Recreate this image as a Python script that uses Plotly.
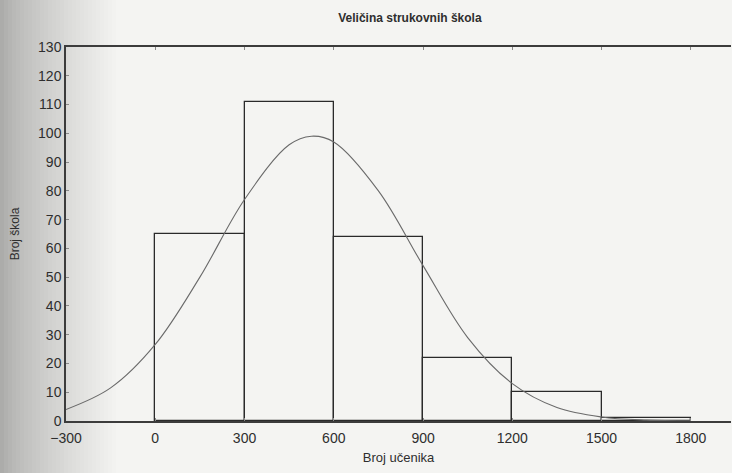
import plotly.graph_objects as go

# Histogram data
bin_starts = [0, 300, 600, 900, 1200, 1500]
bin_width = 300
counts = [65, 111, 64, 22, 10, 1]

# Fitted normal curve
curve_x = [-300, -150, 0, 150, 300, 450, 525, 600, 750, 900, 1050, 1200, 1350, 1500, 1650, 1800]
curve_y = [4, 11.5, 26.6, 50, 77, 96, 99, 97, 80, 54, 29, 13, 4.7, 1.4, 0.3, 0.05]

x_ticks = [-300, 0, 300, 600, 900, 1200, 1500, 1800]

fig = go.Figure()
fig.add_trace(go.Bar(
    x=bin_starts, y=counts, width=[bin_width] * len(bin_starts), offset=0,
    marker=dict(color="rgba(0,0,0,0)", line=dict(color="#2a2a2a", width=1.3)),
    showlegend=False, hoverinfo="skip"))
fig.add_trace(go.Scatter(
    x=curve_x, y=curve_y, mode="lines", line=dict(color="#6a6a6a", width=1.1, shape="spline"),
    showlegend=False, hoverinfo="skip"))

# scanned-page shadow on the left edge (decoration)
L, W = 66, 665
shapes = []
n = 30
for i in range(n):
    p0 = i * 4
    p1 = p0 + 4
    t = i / (n - 1)
    g = int(172 + (244 - 172) * (t ** 0.75))
    shapes.append(dict(type="rect", xref="paper", yref="paper", layer="below",
                       x0=(p0 - L) / W, x1=(p1 - L) / W, y0=-0.2, y1=1.2,
                       fillcolor=f"rgb({g},{g},{g - 2})", line=dict(width=0)))

bg = "#f4f4f2"
fig.update_layout(
    width=732, height=473,
    margin=dict(l=66, r=1, t=47, b=52),
    paper_bgcolor=bg, plot_bgcolor="rgba(0,0,0,0)",
    shapes=shapes,
    font=dict(family="Liberation Sans, Arial, sans-serif", size=14, color="#2e2e2e"),
    title=dict(text="<b>Veličina strukovnih škola</b>", x=0.56, xanchor="center", y=0.963, yanchor="middle",
               font=dict(size=12, color="#2e2e2e")),
    bargap=0,
    xaxis=dict(range=[-300, 1935], tickvals=x_ticks, showgrid=False, zeroline=False,
               showline=True, linecolor="#3c3c3c", linewidth=1.5, mirror="ticks",
               ticks="inside", ticklen=3, tickcolor="#8a8a8a", automargin=False,
               tickfont=dict(size=14), ticklabelstandoff=3,
               title=dict(text="Broj učenika", standoff=8, font=dict(size=13))),
    yaxis=dict(range=[0, 130], dtick=10, showgrid=False, zeroline=False,
               showline=True, linecolor="#3c3c3c", linewidth=1.5, mirror=False,
               ticks="inside", ticklen=3, tickcolor="#8a8a8a", automargin=False,
               tickfont=dict(size=14),
               title=dict(text="Broj škola", standoff=16, font=dict(size=12))),
)
fig.write_html("out.html", config={"displayModeBar": False},
               post_script="document.body.style.margin='0';document.body.style.overflow='hidden';")
